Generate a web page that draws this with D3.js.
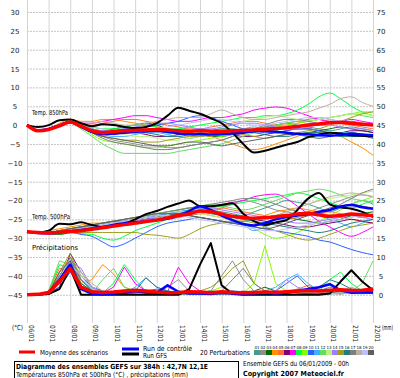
<!DOCTYPE html>
<html>
<head>
<meta charset="utf-8">
<script src="https://cdn.jsdelivr.net/npm/d3@7/dist/d3.min.js"></script>
<style>
body { margin: 0; background: #fff; }
text { font-family: "DejaVu Sans", sans-serif; fill: #000; }
.axis path, .axis line { display: none; }
.axis text { fill: #222; }
.grid path { display: none; }
</style>
</head>
<body>
<div class="chart"></div>
<script>
var dates = ["06/01","07/01","08/01","09/01","10/01","11/01","12/01","13/01","14/01","15/01","16/01","17/01","18/01","19/01","20/01","21/01","22/01"];
var tempTicks = [30,25,20,15,10,5,0,-5,-10,-15,-20,-25,-30,-35,-40,-45];
var mmTicks = [75,70,65,60,55,50,45,40,35,30,25,20,15,10,5,0];
var hours = d3.range(0, 385, 12);

// moyenne, controle, GFS (pas de 12h)
var meanT850 = [0,-1.5,-1.2,-0.2,0.8,-0.3,-1.5,-2,-1.7,-1.5,-1.4,-1.3,-1.2,-1.3,-1.5,-1.6,-1.5,-1.6,-1.7,-1.5,-1.4,-1.3,-1.1,-0.9,-0.7,-0.4,0,0.3,0.6,0.7,0.5,0.2,0];
var ctrlT850 = [0,-1.4,-1,0,0.8,-0.5,-1.8,-2.4,-2.2,-2,-1.8,-1.6,-1.5,-1.8,-2.2,-2.4,-2.4,-2.5,-2.4,-2.2,-2,-1.6,-1.5,-1.8,-2,-2.3,-2.4,-2.6,-2.8,-2.6,-2.3,-2.5,-2.7];
var gfsT850 = [0,-0.5,0,1.3,1.5,0.5,-0.3,0.2,0,-0.5,-0.8,-0.5,0.5,2.5,4.6,3.8,3,1.8,0.5,-2,-5,-7.3,-6.8,-6,-5.2,-4.5,-3.2,-2.5,-2,-2.2,-2.7,-2.8,-3];
var meanT500 = [-28.3,-28.5,-28.6,-28.4,-28.2,-28,-27.6,-27.2,-26.8,-26.4,-26,-25.6,-25.2,-24.6,-24,-23.5,-22.8,-23,-23.6,-24.2,-24.5,-24.7,-24.6,-24.3,-24,-23.6,-23.4,-23.8,-24.2,-24,-23.6,-23.8,-24];
var ctrlT500 = [-28.3,-28.6,-28.7,-28.5,-28.2,-27.8,-27.4,-27,-26.5,-26,-25.8,-25.6,-25.2,-24.8,-24,-22.8,-21.5,-22.5,-24,-25.2,-26.2,-26.6,-26,-25,-24.4,-24,-23.6,-23,-22.5,-21.6,-21.2,-21.8,-22.2];
var gfsT500 = [-28.3,-28.5,-28,-26.2,-26.3,-25.8,-26.5,-27,-26.5,-26.2,-25,-23.6,-22.8,-21.7,-20.8,-20,-21.5,-21.5,-21.2,-20.7,-23.5,-25.5,-26.5,-25.8,-25.2,-22.5,-19.5,-18,-21,-21.8,-22.2,-23,-24.4];
var meanPrecip = [0,0.1,0.6,3.5,7,2,0.8,0.6,0.7,1,1.2,1,0.7,0.5,0.6,0.8,0.7,0.5,0.8,0.6,0.5,0.6,0.7,0.6,0.8,1,1.1,1,1.2,1.3,1.1,1.2,1.5];
var ctrlPrecip = [0,0,0.5,4,8,1.5,0.3,0.2,0.3,0.5,1,0.6,0.5,2.5,0.8,0.3,0.3,0.2,0.5,0.3,0.2,0.4,0.5,0.3,0.5,1,1.5,2,2.8,1.2,0.5,0.6,0.6];
var gfsPrecip = [0,0,0.2,1.5,7,0,0,0,0,0,0,0,0,0,0,1.5,8,13.7,2.5,0.2,0,0,0,0,0,0,0,0,0.3,3.5,6.5,3.5,1.2];

// 20 perturbations
var pertColors = ["#3f9f8f","#8f8f8f","#006f00","#ff8f00","#ff6f2f","#7f006f","#ff00ff","#00ff3f","#7fff00","#2f5fff","#3fafff","#5fdf5f","#bfef7f","#9f7fff","#9f9f1f","#1f7f7f","#7f7f7f","#bfaf9f","#bfbfff","#5f5f5f"];
var pertNames = ["01","02","03","04","05","06","07","08","09","10","11","12","13","14","15","16","17","18","19","20"];

var pertT850 = [
  [0,-1.5,-1,0,1,0,-1,-2,-2,-1.5,-1,-1,-1.5,-2,-2,-2.5,-3,-2.5,-2,-1.5,-1,-1,-0.5,0,0.5,0,-0.5,-1,-1.5,-1,-0.5,-1,-1.5],
  [0,-1.5,-1,0,1,-0.5,-2,-3,-4,-4.5,-5,-5.5,-5.5,-6,-6,-5.5,-5,-4.5,-4,-3,-2,-1,-0.5,0,0.5,1,1.5,2,1.5,1,0.5,0,0],
  [0,-1.5,-1,0,1,0,-1,-1.5,-1,-0.5,0,0.5,0,-1,-1.5,-2,-2.5,-3,-3,-2.5,-2,-1.5,-1,-1.5,-2,-2.5,-2,-1.5,-1,-0.5,-1,-1.5,-2],
  [0,-1.5,-1,0.5,1.5,1,1,1.5,1.5,1,0.5,0,-0.5,-1,-1.5,-2,-2.5,-3,-4,-5,-6,-6.5,-6,-5,-4,-3,-2,-2,-2.5,-3,-4.5,-6,-8],
  [0,-1.5,-1,0,1,0.5,0,0.5,1,1.5,1.5,1,0.5,0,-0.5,-1,-1,-0.5,0,0.5,1,1,0.5,0,0,0.5,1,1.5,1,0.5,0,-0.5,-1],
  [0,-1.5,-1,0,0.5,-0.5,-2,-2.5,-2.5,-2,-2,-2.5,-3,-3,-2.5,-2,-1.5,-1.5,-2,-2.5,-3,-3,-2.5,-2,-1.5,-1,-1,-1.5,-2,-2,-1.5,-1.5,-2],
  [0,-1.5,-1,0,1,0.5,0.5,1,1.5,2,2.5,2.5,2,1.5,1,1,1.5,2,2,2.5,3,4,4.5,4.8,4.5,3.5,2.5,1.5,1,1,1.5,1,0.5],
  [0,-1.5,-1,0,1,0,-0.5,-1,-1,-0.5,0,0,-0.5,-1,-1,-0.5,0,0.5,1,1.5,2,2,2.5,2.5,3,4,5.5,7.5,8.5,7,5,3.5,2.5],
  [0,-1.5,-1,0,1,-0.5,-2.5,-4,-4.5,-5,-5.5,-6,-6,-5.5,-5,-4.5,-4,-3.5,-3,-2.5,-2,-1.5,-1,-0.5,0,0.5,1,1.5,2,2.5,3,3.5,3.5],
  [0,-1.5,-1,0,1,0,-1,-1.5,-1.5,-1,-1,-0.5,0,0.5,1,2,2.5,2,1,0,-1,-1.5,-2,-2,-1.5,-1,-1,-1.5,-2,-2.5,-3,-3,-3],
  [0,-1.5,-1,0,1,0,-1.5,-2.5,-3,-3,-2.5,-2,-2,-2.5,-3,-3.5,-3,-2.5,-2,-1.5,-1,-0.5,-1,-1.5,-2,-2.5,-3,-3,-2.5,-2,-2,-2.5,-3],
  [0,-1.5,-1,0,0.5,-1,-3,-5,-6.5,-7.5,-7.5,-7.5,-7.5,-7.5,-7,-6.5,-6,-5.5,-5,-4,-3,-2,-1,0,0.5,1,1,1.5,2,2.5,3,2.5,2],
  [0,-1.5,-1,0,1,0,-1,-1.5,-2,-2.5,-3,-3,-3.5,-4,-4,-3.5,-3,-2,-1,0,1,1.5,2,2.5,2,1.5,1,1.5,2,2.5,3,3,2.5],
  [0,-1.5,-1,0,1,0,-1,-1.5,-1.5,-1,-0.5,0,0.5,0.5,0,-0.5,-1,-1,-0.5,0,0.5,0.5,0,-0.5,-1,-1,-0.5,0,0,-0.5,-1,-1,-1.5],
  [0,-1.5,-1,0,1,0,-2,-3,-3.5,-4,-4,-4.5,-4.5,-4,-3.5,-3,-3,-2.5,-2,-2,-2.5,-3,-3.5,-3,-2.5,-2,-1.5,-1,0,1,2,3,3.5],
  [0,-1.5,-1,0,1,0,-1.5,-2,-2,-1.5,-1.5,-2,-2.5,-3,-3,-2.5,-2,-1.5,-1,-1,-1.5,-2,-2.5,-3,-3,-2.5,-2,-2,-2.5,-3,-3,-3,-3.5],
  [0,-1.5,-1,0,1,0,-2,-3.5,-4.5,-5,-5.5,-6,-6.5,-6.5,-6,-5.5,-5,-4.5,-4,-3,-2,-1,0,1,1.5,1.5,1,0.5,0.5,1,1,0.5,0],
  [0,-1.5,-1,0,1,0.5,0.5,1,0.5,0,0,0.5,1,1.5,2,2,2,3,4,3,2,1.5,1.5,2,2.5,3,3.5,4.5,5.5,7,7.5,6,5],
  [0,-1.5,-1,0,1,0,-0.5,-1,-1.5,-2,-2,-1.5,-1,-0.5,0,0.5,1,1.5,1.5,1,0.5,0,0,0.5,1,1.5,2,2,1.5,1,0.5,0,0.5],
  [0,-1.5,-1,0,1,-0.5,-2,-3,-3.5,-4,-4.5,-5,-5.5,-5.5,-5,-4.5,-4.5,-5,-5.5,-5,-4.5,-4,-3.5,-3,-2.5,-2.5,-3,-3.5,-3,-2.5,-2,-2.5,-3]
];

var pertT500 = [
  [-28.3,-28.5,-28.5,-28,-27.5,-27,-27,-26.5,-26,-25.5,-25,-24.5,-24,-23.5,-23,-22.5,-22,-22.5,-23,-23.5,-24,-23,-22,-21,-20,-20.5,-21,-22,-23,-22,-21,-20,-21],
  [-28.3,-28.5,-28.5,-28.5,-28,-27.5,-27,-27,-26.5,-26,-26,-25.5,-25,-25,-24.5,-24,-23.5,-23,-22,-21,-20,-20.5,-21.5,-22.5,-23,-23.5,-23,-22,-21,-20,-19,-18.5,-19],
  [-28.3,-28.5,-28.8,-29,-28.5,-28,-27.5,-27,-26.5,-26,-25.5,-25,-24.5,-24,-23.5,-24,-24.5,-25,-25.5,-26,-25.5,-25,-24.5,-24,-24.5,-25,-25.5,-26,-25.5,-25,-24,-23.5,-23],
  [-28.3,-28.5,-28,-27.5,-27,-26.5,-26,-26,-26,-26,-25.5,-25,-25,-24.5,-24,-23.5,-23.5,-24,-24.5,-25,-25.5,-25,-24,-23,-22.5,-22,-22.5,-23,-24,-24.5,-25,-25.5,-26],
  [-28.3,-28.5,-28.5,-28,-27.5,-27.5,-27,-27,-26.5,-26,-25.5,-25.5,-25,-24.5,-24,-23.5,-23,-22.5,-22,-22.5,-23,-23.5,-24,-24.5,-25,-24.5,-24,-23.5,-23,-23.5,-24,-24.5,-24],
  [-28.3,-28.5,-28.5,-28.5,-28,-27.5,-27.5,-27,-26.5,-26,-25.5,-25,-24.5,-24,-23.5,-23,-22.5,-23,-23.5,-24,-24.5,-25,-25.5,-26,-26.5,-27,-27,-26.5,-26,-25.5,-25,-25.5,-26],
  [-28.3,-28.5,-28.5,-28,-27.5,-27,-26.5,-26,-25.5,-25,-24.5,-24,-23.5,-23,-22.5,-22,-22,-21.5,-21,-20.5,-20,-19,-18.5,-18.3,-19.5,-21.5,-23.5,-25.5,-27,-28.5,-29.5,-28.5,-27],
  [-28.3,-28.5,-28.5,-28.5,-28.5,-28.8,-29,-30,-30.5,-29.5,-28,-27,-26,-25,-24,-23,-22.5,-22,-21.5,-21,-20.5,-20,-19.5,-19,-18.5,-18,-18.5,-19.5,-20.5,-21.5,-22,-21,-20],
  [-28.3,-28.5,-28.5,-28,-27.5,-27,-26.5,-26,-25.5,-25,-24.5,-24,-23.5,-23,-22.5,-22,-22.5,-23,-24,-25,-26,-27.5,-29,-30,-29.5,-28.5,-27,-25.5,-24,-22.5,-21,-20,-19],
  [-28.3,-28.5,-28.5,-28.5,-28.5,-29,-29.5,-31,-32.3,-31.5,-30,-28.5,-27,-26,-25.5,-25,-24.5,-25,-25.5,-26,-26.5,-27,-27.5,-28,-28.5,-29,-29.5,-30.5,-31,-32,-33,-33.8,-34.4],
  [-28.3,-28.5,-28.5,-28.5,-28,-27.5,-27,-26.5,-26,-25.5,-25,-24.5,-24,-23.5,-23,-22.5,-22,-22.5,-23.5,-25,-26.5,-28,-27,-26,-25,-24,-23.5,-24,-25,-26,-27,-26,-25],
  [-28.3,-28.5,-28.5,-28,-27.5,-27,-26.5,-26,-25.5,-25,-24.5,-24,-23.5,-23,-22.5,-22,-21.5,-21,-21.5,-22,-22.5,-22,-21,-20,-19,-18,-17.5,-17,-17.5,-18.5,-19.5,-20,-20.5],
  [-28.3,-28.5,-28.5,-28,-27.5,-27,-26.5,-26,-25.5,-25,-24.5,-24,-23.5,-23,-23,-23,-23.5,-24,-24.5,-25,-25.5,-25,-24.5,-24,-23,-22,-21,-20,-19.5,-19,-18.5,-18,-17.5],
  [-28.3,-28.5,-28.5,-28.5,-28,-27.5,-27,-27,-26.5,-26,-25.5,-25,-24.5,-24,-23.5,-23,-22.5,-22,-22.5,-23,-23.5,-24,-24.5,-25,-25.5,-26,-26,-25.5,-25,-24.5,-24,-24.5,-25],
  [-28.3,-28.5,-28.5,-28.5,-28.5,-28.5,-28.5,-28.5,-28.5,-28.5,-28.5,-29,-29.2,-29.6,-30,-29,-27.5,-26.5,-26,-25.5,-25.5,-26,-27,-28,-29,-30,-30.5,-30,-29,-28,-27,-26.5,-26],
  [-28.3,-28.5,-28.5,-28,-27.5,-27,-26.5,-26,-25.5,-25.5,-25,-24.5,-24,-24,-23.5,-23,-23,-23.5,-24,-24.5,-25,-25.5,-26,-26.5,-27,-27.5,-28,-28.5,-28,-27,-26,-25.5,-25],
  [-28.3,-28.5,-28.5,-28,-27.5,-27,-26.5,-26,-25.5,-25,-24.5,-24,-23.5,-23,-22.5,-22,-21.5,-21,-20.5,-20,-19.5,-19.5,-20,-21,-22,-23,-24,-23.5,-22.5,-21,-19.5,-18,-17],
  [-28.3,-28.5,-28.5,-28,-27.5,-27.5,-27,-26.5,-26,-25.5,-25,-24.5,-24.5,-24,-24,-23.5,-23,-23,-23.5,-24,-24.5,-25,-24.5,-24,-23,-22,-21,-20,-19,-18.5,-18,-18.5,-19],
  [-28.3,-28.5,-28.5,-28.5,-28,-27.5,-27,-26.5,-26,-25.5,-25,-24.5,-24,-24,-24,-24.5,-25,-25.5,-26,-26.5,-27,-27.5,-28,-28,-27.5,-27,-26.5,-26,-25.5,-25,-24.5,-24,-24],
  [-28.3,-28.5,-28.5,-28,-27.5,-27,-26.5,-26,-25.5,-25,-24.5,-24,-23.5,-23.5,-23.5,-24,-24.5,-25,-25.5,-26,-26.5,-27,-27.5,-27,-26,-25,-24,-23,-22,-21.5,-21,-21.5,-22]
];

var pertPrecip = [
  [0,0,0.5,5,9,3,1,0.3,0.2,0.3,0.5,0.8,0.5,0.3,0.2,0.2,0.3,0.5,0.3,0.2,0.3,0.5,0.8,1,0.5,0.3,0.5,1,2,1.5,0.8,0.5,0.5],
  [0,0,0.5,3,10,5,2,0.5,0.3,0.2,0.3,0.5,1,2,4,1,0.5,1,5,9,4,1,0.5,0.3,0.2,0.3,0.5,0.3,0.2,0.5,1,0.5,0.3],
  [0,0,0.3,4,8,4,1.5,0.5,0.2,0.2,0.3,0.3,0.2,0.2,0.5,1,0.5,0.3,0.2,0.3,0.5,1,2,1,0.5,0.3,0.5,1,0.5,0.3,0.5,0.8,0.5],
  [0,0,0.3,6,10,3,4,8,5.5,2,1,0.5,0.3,0.3,0.5,1,0.5,0.3,0.2,0.3,0.5,0.3,0.5,1,0.8,0.5,0.3,0.5,1,1.5,1,0.8,0.5],
  [0,0,1,7,6,2,0.8,0.5,0.3,0.5,1,0.5,0.3,0.5,0.8,0.5,0.3,0.2,0.5,1,0.5,0.3,0.2,0.5,0.8,1.5,2.5,1.5,0.8,0.5,0.3,0.5,1],
  [0,0,0.5,2,11,6,2,0.5,0.3,0.2,0.2,0.3,0.5,0.3,0.2,0.3,0.5,1,0.5,0.3,0.2,0.3,0.5,0.8,0.5,0.3,0.2,0.3,0.5,0.8,1,0.8,0.5],
  [0,0,0.5,4,9,4,1,0.5,2,7.3,3,1,0.5,0.8,7.3,3,1,0.5,0.3,0.5,1,0.5,0.3,0.5,1,0.8,0.5,0.3,0.5,1,1.5,1,0.8],
  [0,0,0.8,8,7,3,1,0.5,3,8,4,1,0.5,0.3,0.2,0.3,0.5,1,0.5,0.3,0.5,1,0.5,0.3,0.2,0.3,0.5,1,4,6,3,1,0.5],
  [0,0,0.5,3,8,5,2,1,0.5,0.3,0.2,0.3,0.5,1,0.5,0.3,0.5,1,2,1,0.5,3,13,3,1,0.5,0.3,0.5,1,0.8,0.5,0.3,0.5],
  [0,0,0.3,2,6,5,2,1,0.5,0.3,0.5,1,1.5,1,0.5,0.3,0.2,0.3,0.5,1,0.8,0.5,0.5,1,3,5,2,1,0.5,0.3,0.5,0.8,0.5],
  [0,0,0.5,5,9,4,1.5,0.5,0.3,0.5,2,4.5,2,1,0.5,0.3,0.5,1,0.5,0.3,0.2,0.5,1,2,4,5.5,3,1,0.5,0.3,0.5,1,0.8],
  [0,0,1,9,8,2,0.5,4,7,2,1,0.5,0.3,0.2,0.3,0.5,1,0.5,0.3,0.2,0.3,0.5,1,0.5,0.3,0.5,1,0.5,0.3,0.5,1,3,9],
  [0,0,0.5,4,10,6,2,0.5,0.3,0.2,0.3,0.5,1,2,1,0.5,0.3,0.2,0.3,0.5,1,0.5,0.3,0.2,0.5,1,1.5,1,0.5,0.3,0.5,0.8,1],
  [0,0,0.3,3,9,7,2,0.5,0.3,0.5,1,0.5,0.3,0.2,0.3,0.5,0.3,0.2,0.5,1,0.5,0.3,0.5,1,4,2,1,0.5,0.3,0.5,1,0.5,0.3],
  [0,0,0.5,6,11,4,1,0.5,0.3,0.2,0.3,0.5,0.3,0.2,0.3,0.5,1,2,4,7,9,3,1,0.5,0.3,0.5,1,0.5,0.3,0.5,1,0.5,0.3],
  [0,0,0.5,4,8,3,1,0.5,0.3,0.5,1,4.5,2,1,0.5,0.3,0.2,0.3,0.5,0.3,0.2,0.5,1,0.5,0.3,0.5,1,2,4,3,1.5,1,0.5],
  [0,0,0.5,5,10,4,1,0.3,0.2,0.3,0.5,0.3,0.2,0.3,0.5,1,0.5,0.3,1,4,7,3,1,0.5,0.3,0.2,0.3,0.5,0.3,0.2,0.5,1,1.5],
  [0,0,0.3,3,7,6,3,1,0.5,0.3,0.2,0.3,0.5,0.3,0.2,0.3,0.5,0.8,0.5,0.3,0.5,1,0.5,0.3,0.5,1,0.5,0.3,0.5,1,2,1,0.5],
  [0,0,0.5,4,8,5,1.5,0.5,0.3,0.2,0.3,0.5,0.3,0.2,0.5,1,0.5,0.3,0.2,0.3,0.5,1,0.5,0.3,0.2,0.5,1,0.5,0.3,0.5,0.3,0.2,0.5],
  [0,0,0.5,6,9,2,0.5,0.3,0.2,0.3,0.5,1,0.5,0.3,0.2,0.3,0.5,0.3,0.2,0.3,0.5,0.3,0.2,0.5,1,0.5,0.3,0.2,0.5,1,0.8,0.5,0.3]
];

var width = 400, height = 378;
var svg = d3.select(".chart").append("svg")
  .attr("width", width)
  .attr("height", height)
  .style("display", "block");
svg.append("rect").attr("width", width).attr("height", height).attr("fill", "#fff");

var x = d3.scaleLinear().domain([0, 384]).range([27, 373]);
var y = d3.scaleLinear().domain([30, -45]).range([12, 294.75]);
var yMm = d3.scaleLinear().domain([75, 0]).range([12, 294.75]);

// grille
svg.append("g").attr("class", "grid")
  .attr("transform", "translate(27,0)")
  .call(d3.axisLeft(y).tickValues(tempTicks).tickSize(-346).tickFormat(""))
  .selectAll("line").attr("stroke", "#c4c4c4").attr("stroke-dasharray", "2,1");
svg.append("g").attr("class", "grid")
  .attr("transform", "translate(0,323)")
  .call(d3.axisBottom(x).tickValues(d3.range(0, 385, 24)).tickSize(-323).tickFormat(""))
  .selectAll("line").attr("stroke", "#d4d4d4");

// axes
var ax = svg.append("g").attr("class", "axis")
  .attr("transform", "translate(15,0)")
  .call(d3.axisLeft(y).tickValues(tempTicks).tickSize(0).tickPadding(0));
ax.selectAll("text").attr("text-anchor", "middle").attr("dy", "0.35em")
  .style("font-size", "7px").style("font-family", "DejaVu Sans");
var ar = svg.append("g").attr("class", "axis")
  .attr("transform", "translate(381,0)")
  .call(d3.axisRight(yMm).tickValues(mmTicks).tickSize(0).tickPadding(0));
ar.selectAll("text").attr("text-anchor", "middle").attr("dy", "0.35em")
  .style("font-size", "7px").style("font-family", "DejaVu Sans");
var ab = svg.append("g").attr("class", "axis")
  .attr("transform", "translate(0,325)")
  .call(d3.axisBottom(x).tickValues(d3.range(0, 385, 24)).tickSize(0)
    .tickFormat(function(d) { return dates[d / 24]; }));
ab.selectAll("text")
  .attr("text-anchor", "start")
  .attr("x", 0).attr("y", -1).attr("dy", 0)
  .attr("transform", "rotate(90)")
  .attr("textLength", 17).attr("lengthAdjust", "spacingAndGlyphs")
  .style("font-size", "7px").style("font-family", "DejaVu Sans");

function label(txt, px, py, size, len, bold) {
  var t = svg.append("text").attr("x", px).attr("y", py)
    .style("font-size", size + "px")
    .text(txt);
  if (len) t.attr("textLength", len).attr("lengthAdjust", "spacingAndGlyphs");
  if (bold) t.style("font-weight", "bold");
  return t;
}
label("(°C)", 12, 330, 7, 11).attr("fill", "#222");
label("(mm)", 382, 330, 7, 11).attr("fill", "#222");
label("Temp. 850hPa", 32, 115, 7, 36);
label("Temp. 500hPa", 32, 219, 7, 38);
label("Précipitations", 32, 250, 7, 46);

// courbes
var lineT = d3.line()
  .x(function(d, i) { return x(hours[i]); })
  .y(function(d) { return y(d); })
  .curve(d3.curveMonotoneX);
var lineP = d3.line()
  .x(function(d, i) { return x(hours[i]); })
  .y(function(d) { return yMm(d); });

var gp = svg.append("g").attr("fill", "none").attr("stroke-width", 1);
pertT850.forEach(function(s, i) {
  gp.append("path").attr("d", lineT(s)).attr("stroke", pertColors[i]);
});
pertT500.forEach(function(s, i) {
  gp.append("path").attr("d", lineT(s)).attr("stroke", pertColors[i]);
});
pertPrecip.forEach(function(s, i) {
  gp.append("path").attr("d", lineP(s)).attr("stroke", pertColors[i]);
});

var gm = svg.append("g").attr("fill", "none").attr("stroke-linejoin", "round");
gm.append("path").attr("d", lineT(gfsT850)).attr("stroke", "#000").attr("stroke-width", 2);
gm.append("path").attr("d", lineT(gfsT500)).attr("stroke", "#000").attr("stroke-width", 2);
gm.append("path").attr("d", lineP(gfsPrecip)).attr("stroke", "#000").attr("stroke-width", 2);
gm.append("path").attr("d", lineT(ctrlT850)).attr("stroke", "#0000ff").attr("stroke-width", 2.5);
gm.append("path").attr("d", lineT(ctrlT500)).attr("stroke", "#0000ff").attr("stroke-width", 2.5);
gm.append("path").attr("d", lineP(ctrlPrecip)).attr("stroke", "#0000ff").attr("stroke-width", 2.5);
gm.append("path").attr("d", lineT(meanT850)).attr("stroke", "#ff0000").attr("stroke-width", 3.5);
gm.append("path").attr("d", lineT(meanT500)).attr("stroke", "#ff0000").attr("stroke-width", 3.5);
gm.append("path").attr("d", lineP(meanPrecip)).attr("stroke", "#ff0000").attr("stroke-width", 3.5);

// legende
svg.append("line").attr("x1", 19).attr("x2", 35).attr("y1", 352).attr("y2", 352)
  .attr("stroke", "#ff0000").attr("stroke-width", 3);
label("Moyenne des scénarios", 40, 354.5, 7, 68);
svg.append("line").attr("x1", 122).attr("x2", 139).attr("y1", 349).attr("y2", 349)
  .attr("stroke", "#0000ff").attr("stroke-width", 3);
svg.append("line").attr("x1", 122).attr("x2", 139).attr("y1", 354).attr("y2", 354)
  .attr("stroke", "#000").attr("stroke-width", 3);
label("Run de contrôle", 143, 351, 7, 49);
label("Run GFS", 143, 357.5, 7, 24);
label("20 Perturbations", 200, 354.5, 7, 50);

var sw = d3.scaleBand().domain(pertNames).range([254, 374]);
svg.selectAll(".sw").data(pertNames).enter().append("rect")
  .attr("x", function(d) { return sw(d); })
  .attr("y", 350).attr("width", sw.bandwidth()).attr("height", 5)
  .attr("fill", function(d, i) { return pertColors[i]; });
svg.selectAll(".swl").data(pertNames).enter().append("text")
  .attr("x", function(d) { return sw(d) + sw.bandwidth() / 2; })
  .attr("y", 348.5).attr("text-anchor", "middle")
  .style("font-size", "4px")
  .text(function(d) { return d; });

svg.append("rect").attr("x", 14.5).attr("y", 361.5).attr("width", 224).attr("height", 20)
  .attr("fill", "none").attr("stroke", "#000");
label("Diagramme des ensembles GEFS sur 384h : 42,7N 12,1E", 16, 368.5, 7, 192, true);
label("Températures 850hPa et 500hPa (°C) , précipitations (mm)", 16, 376.5, 7, 172);
label("Ensemble GEFS du 06/01/2009 - 00h", 243, 365.5, 7, 106);
label("Copyright 2007 Meteociel.fr", 243, 376, 7, 101, true);
</script>
</body>
</html>
